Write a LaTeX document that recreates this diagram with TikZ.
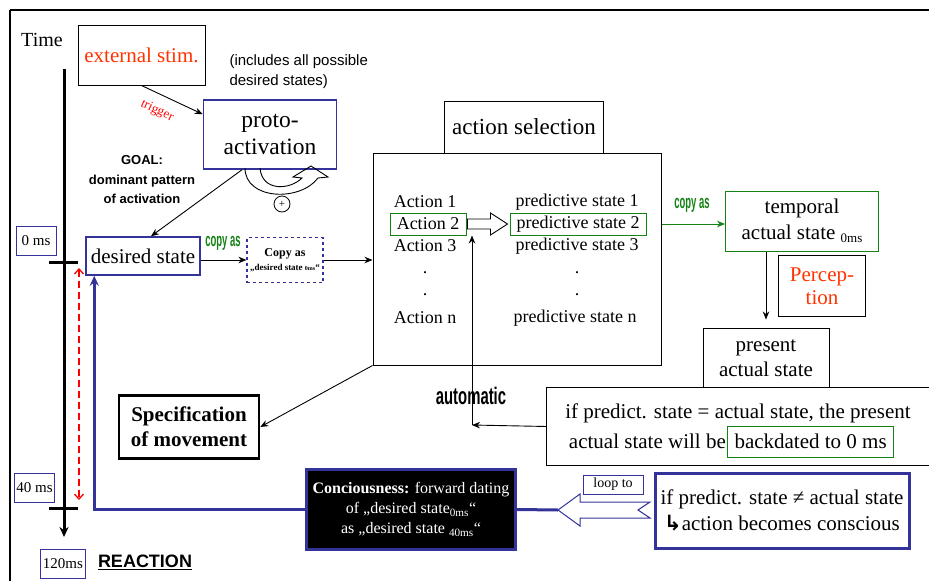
\documentclass[tikz,border=0pt]{standalone}
\usepackage{fontspec}
\setmainfont{Liberation Serif}
\setsansfont{Liberation Sans}
\newfontfamily\narrowfont[FakeStretch=0.62]{Liberation Sans}
\newfontfamily\copyfont[FakeStretch=0.5]{Liberation Sans}
\newfontfamily\symfont{DejaVu Sans}
\usepackage{xcolor}
\usepackage{tikz}
\usetikzlibrary{arrows.meta,shapes}
\definecolor{tblue}{RGB}{51,51,153}
\definecolor{tgreen}{RGB}{20,130,20}
\definecolor{tred}{RGB}{255,51,0}
\newcommand{\fsz}[2]{\fontsize{#1}{#2}\selectfont}

\begin{document}
\begin{tikzpicture}[x=1pt,y=-1pt,>={Stealth[length=8pt,width=6.5pt]},
box/.style={draw,line width=1pt,inner sep=2pt,align=center},
bbox/.style={box,draw=tblue,line width=1.5pt},
gbox/.style={box,draw=tgreen},
msbox/.style={draw=tblue,line width=1pt,inner sep=0pt,minimum width=40pt,minimum height=29pt,font=\fsz{15}{15}},
item/.style={inner sep=1pt,font=\fsz{18}{18}},
arr/.style={->,line width=0.9pt},
bline/.style={draw=tblue,line width=3pt},
cpy/.style={text=tgreen,font=\copyfont\bfseries\fsz{19}{19}}]
\useasboundingbox(0,0)rectangle(929,581);
\draw[line width=1.8pt](929,10)--(10,10);
\draw[line width=1.3pt](10,10)--(10,581);

\node[font=\fsz{20}{20}](time)at(42,40){Time};
\coordinate(tltop)at(64,69);
\coordinate(tlbot)at(64,537);
\draw[line width=3pt,-{Stealth[length=10pt,width=9pt]}](tltop)--(tlbot);
\draw[line width=3pt](49,262)--(78,262)
(49,508)--(78,508);
\node[msbox](ms0)at(36,241){0 ms};
\node[msbox](ms40)at(34.5,488){40 ms};
\node[msbox,minimum width=45pt](ms120)at(63,564){120ms};
\node[font=\sffamily\bfseries\fsz{18}{18}](reaction)at(145,562){\underline{REACTION}};
\coordinate(red0)at(79,268);
\coordinate(red40)at(79,500);
\draw[red,line width=1.3pt,dash pattern=on 7pt off 4pt,{Straight Barb[length=5pt,width=9pt]}-{Straight Barb[length=5pt,width=9pt]}](red0)--(red40);

\node[box,minimum width=127pt,minimum height=60pt,text=tred,font=\fsz{21}{21}](stim)at(141.5,55){external stim.};
\node[bbox,minimum width=133pt,minimum height=69pt,font=\fsz{23.5}{27}](proto)at(270,134.5){proto-\\activation};
\node[anchor=west,align=left,font=\sffamily\fsz{15}{20}](incl)at(226,72){(includes all possible\\desired states)};
\draw[arr](stim.south)--([yshift=-15pt]proto.north west);
\node[rotate=-25,text=red,font=\fsz{13}{13}](trig)at(157,111){trigger};
\draw[line width=0.9pt](245,168)..controls(245,200)and(300,202)..(318,178)--(328,177)--(311,166)--(293,177)--(302,178)..controls(290,190)and(262,192)..(260,168);
\node[circle,draw,line width=0.8pt,minimum size=16pt,inner sep=0pt,font=\fsz{11}{11}](plus)at(282,204){+};
\node[align=center,font=\sffamily\bfseries\fsz{13}{19.5}](goal)at(142,180){GOAL:\\dominant pattern\\of activation};

\node[bbox,minimum width=114pt,minimum height=38pt,font=\fsz{21}{21}](desired)at(143,256){desired state};
\node[draw=tblue,line width=1.2pt,dashed,minimum width=76pt,minimum height=45pt,inner sep=0pt,align=center,font=\bfseries\fsz{12}{14}](copybox)at(285,260){Copy as\\{\fsz{9}{9}„desired state {\fsz{6}{6}0ms}“}};
\node[cpy](cpyA)at(223,243){copy as};
\draw[arr]([xshift=-28pt]proto.south)--([xshift=8pt]desired.north);
\draw[arr](copybox.west-|desired.east)--(copybox.west);

\node[box,minimum width=159pt,minimum height=52pt,font=\fsz{23}{23}](selhead)at(524,127){action selection};
\node[box,minimum width=288pt,minimum height=212pt](selbox)at(517,259){};
\draw[arr](copybox.east)--(copybox.east-|selbox.west);
\node[item](act1)at(425,202){Action 1};
\node[item,gbox,inner sep=0pt,minimum width=76pt,minimum height=22pt](act2)at(428,224){Action 2};
\node[item](act3)at(425,246){Action 3};
\node[item](actdA)at(425,273){.};
\node[item](actdB)at(425,295){.};
\node[item](actn)at(425,318){Action n};
\node[item](pred1)at(577,202){predictive state 1};
\node[item,gbox,inner sep=0pt,minimum width=136pt,minimum height=22pt](pred2)at(578,224){predictive state 2};
\node[item](pred3)at(577,246){predictive state 3};
\node[item](preddA)at(577,273){.};
\node[item](preddB)at(577,295){.};
\node[item](predn)at(575,318){predictive state n};
\draw[line width=0.9pt](act2.east)++(1,-5)--++(23,0)--++(0,-6)--++(17,11)--++(-17,11)--++(0,-6)--++(-23,0)--cycle;

\node[gbox,minimum width=153pt,minimum height=60pt,font=\fsz{21}{26}](temporal)at(802,221){temporal\\actual state \raisebox{-3pt}{\fsz{13}{13}0ms}};
\draw[arr,tgreen](selbox.east|-pred2.east)--(temporal.west|-pred2.east);
\node[cpy](cpyB)at(692,205){copy as};
\node[box,minimum width=87pt,minimum height=61pt,text=tred,font=\fsz{21}{23}](percep)at(822,286){Percep-\\tion};
\node[box,minimum width=126pt,minimum height=60pt,font=\fsz{21}{25}](present)at(766,358){present\\actual state};
\draw[arr,shorten >=8pt](present.north|-temporal.south)--(present.north);
\node[fill=white,minimum width=382pt,minimum height=77pt](ifeq)at(738,426.5){};
\draw[line width=1pt](ifeq.north east)--(ifeq.north west)--(ifeq.south west)--(ifeq.south east);
\node[inner sep=1pt,font=\fsz{21}{21}](ifeqA)at(738,413){if predict. state = actual state, the present};
\node[anchor=east,inner sep=1pt,font=\fsz{21}{21}](ifeqB)at(727,441.5){actual state will be};
\node[gbox,anchor=west,inner xsep=7pt,minimum height=31pt,font=\fsz{21}{21}](backd)at(727,441.5){backdated to 0 ms};
\coordinate(autocorner)at(472,425);
\draw[arr](ifeq.west)--(autocorner);
\draw[arr](autocorner)--(autocorner|-act2.south);
\node[font=\narrowfont\bfseries\fsz{24}{24}](auto)at(471,396){automatic};

\node[draw,line width=2.5pt,minimum width=140pt,minimum height=63pt,align=center,font=\bfseries\fsz{21}{25}](spec)at(189,427){Specification\\of movement};
\draw[arr](selbox.south west)--(spec.east);

\node[draw=tblue,fill=black,line width=3pt,text=white,minimum width=209pt,minimum height=80pt,align=center,font=\fsz{16}{20}](consc)at(411,509.5){\textbf{Conciousness:} forward dating\\of „desired state\textsubscript{0ms}“\\as „desired state \textsubscript{40ms}“};
\draw[bline,-{Stealth[length=10pt,width=9pt]}](consc.west)-|([xshift=9pt]desired.south west);
\node[box,draw=tblue,line width=3pt,minimum width=254pt,minimum height=75pt,font=\fsz{21}{26}](ifne)at(782,510.5){if predict. state ≠ actual state\\{\symfont\bfseries ↳}action becomes conscious};
\node[draw=tblue,line width=1pt,minimum width=60pt,minimum height=19pt,inner sep=0pt,font=\fsz{14}{14}](loopto)at(613,484.5){loop to};
\coordinate(looptip)at(558,510);
\draw[bline](consc.east)--(looptip);
\draw[tblue,line width=1pt,fill=white](looptip)--++(22,-16)--++(0,8)--++(70,0)--++(-12,8)--++(12,8)--++(-70,0)--++(0,8)--cycle;
\end{tikzpicture}
\end{document}
